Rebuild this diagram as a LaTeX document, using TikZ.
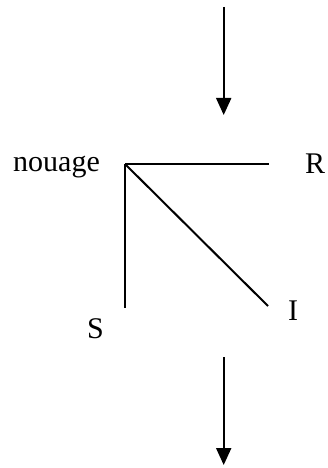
\documentclass[tikz,border=0pt]{standalone}
\usepackage{fontspec}
\setmainfont{Liberation Serif}
\usetikzlibrary{arrows.meta}
\begin{document}
\begin{tikzpicture}[
    x=1pt, y=-1pt,
    every node/.style={font=\fontsize{30}{36}\selectfont, inner sep=0pt},
    lbl/.style={anchor=base west},
    strand/.style={line width=2pt},
    flow/.style={line width=2pt, -{Triangle[width=15pt,length=17pt]}},
]
\useasboundingbox (0,0) rectangle (328,468);
% Incoming and outgoing arrows
\coordinate (inA)  at (223.7,7);
\coordinate (inB)  at (223.7,115);
\coordinate (outA) at (223.7,357);
\coordinate (outB) at (223.7,465);
\draw[flow] (inA) -- (inB);
\draw[flow] (outA) -- (outB);
% The knot and its three strands
\coordinate (knot) at (125,164);
\coordinate (rEnd) at (269,164);
\coordinate (sEnd) at (125,308);
\coordinate (iEnd) at (268,306);
\node[lbl] (nouage) at (13,171.7) {nouage};
\node[lbl] (R) at (305,173.3) {R};
\node[lbl] (I) at (288,320)   {I};
\node[lbl] (S) at (87,338)    {S};
\draw[strand] (knot) -- (rEnd);
\draw[strand] (knot) -- (sEnd);
\draw[strand] (knot) -- (iEnd);
\end{tikzpicture}
\end{document}
